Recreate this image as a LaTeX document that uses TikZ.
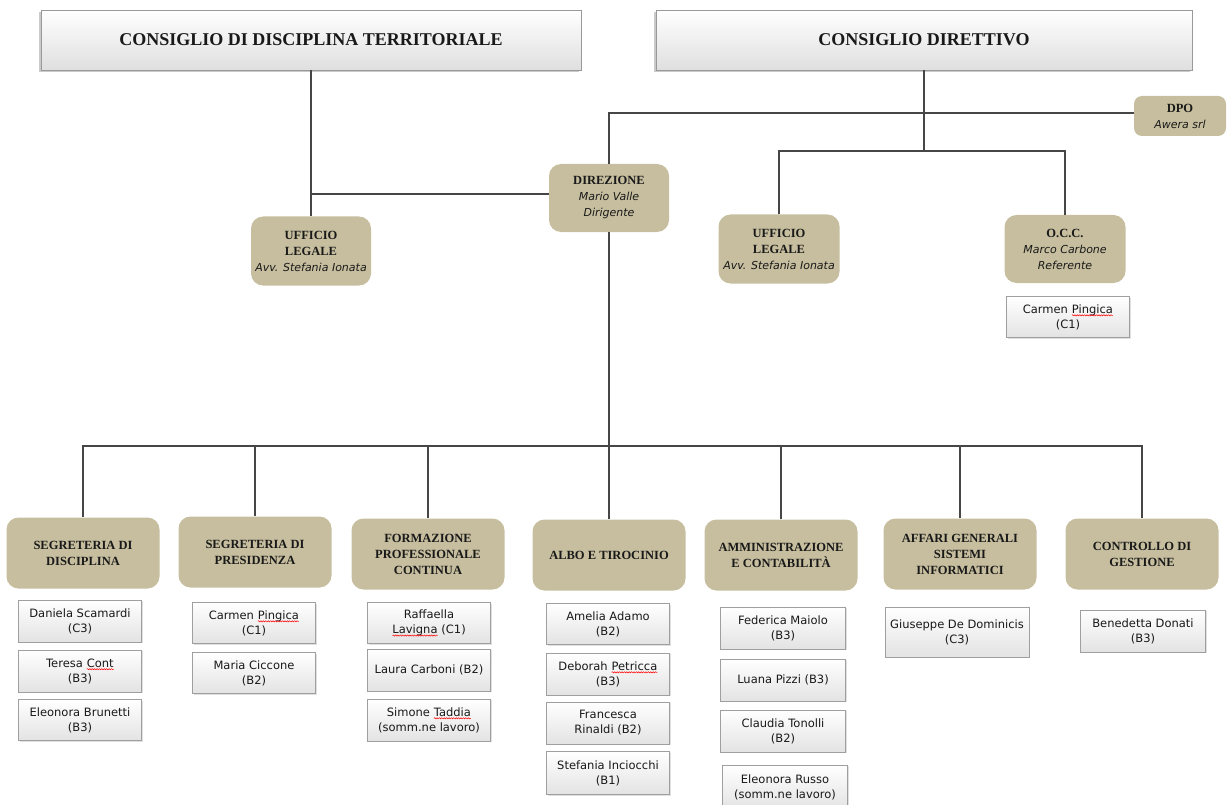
\documentclass[tikz,border=0pt]{standalone}
\usepackage{fontspec}
\setmainfont{Liberation Serif}
\newfontfamily\sansf{DejaVu Sans}
\usetikzlibrary{shadows,decorations.pathmorphing}
\definecolor{tanc}{RGB}{198,190,158}
\definecolor{linec}{RGB}{70,70,70}
\definecolor{txtc}{RGB}{25,25,25}
\newcommand\spell[1]{\tikz[baseline=(sw.base)]{\node[inner sep=0pt,outer sep=0pt,minimum width=0pt,minimum height=0pt,draw=none,shade=none,fill=none] (sw) {#1};
  \draw[red, line width=0.5pt, decorate, decoration={snake, amplitude=0.6pt, segment length=2.4pt}] ([yshift=-2.2pt]sw.base west) -- ([yshift=-2.2pt]sw.base east);}}
\newcommand\ttlA{\rmfamily\bfseries\fontsize{18}{20}\selectfont}
\newcommand\ttlB{\rmfamily\bfseries\fontsize{12.5}{16}\selectfont}
\newcommand\nmI{\sansf\mdseries\itshape\fontsize{11}{16}\selectfont}
\newcommand\pers{\sansf\fontsize{11.5}{15}\selectfont}
\tikzset{
  topbox/.style={draw=gray!80, top color=white, bottom color=gray!25, inner sep=0pt,
    minimum height=60pt, font=\ttlA, text=txtc,
    drop shadow={shadow xshift=-2pt, shadow yshift=-2pt, fill=gray!70, opacity=.6}},
  tanbox/.style={fill=tanc, rounded corners=12pt, inner sep=0pt, align=center,
    text=txtc, font=\ttlB, minimum width=153pt, minimum height=71pt},
  persbox/.style={draw=gray!75, top color=white, bottom color=gray!22, inner sep=0pt,
    align=center, text=txtc, font=\pers, minimum width=123pt, minimum height=42pt,
    drop shadow={shadow xshift=1pt, shadow yshift=-1pt, fill=gray!60, opacity=.4}},
  conn/.style={draw=linec, line width=1.3pt}
}
\begin{document}
\begin{tikzpicture}[x=1pt,y=-1pt]
\useasboundingbox (0,0) rectangle (1231,805);
% top boxes
\node[topbox, minimum width=540pt] (cdt) at (311,40) {CONSIGLIO DI DISCIPLINA TERRITORIALE};
\node[topbox, minimum width=536pt] (cd) at (924,40) {CONSIGLIO DIRETTIVO};
% second level
\node[tanbox, minimum width=92pt, minimum height=40pt, rounded corners=8pt] (dpo) at (1180,116)
  {DPO\\{\nmI Awera srl}};
\node[tanbox, minimum width=120pt, minimum height=68pt] (dir) at (609,198)
  {DIREZIONE\\{\nmI Mario Valle}\\{\nmI Dirigente}};
\node[tanbox, minimum width=120pt, minimum height=69pt] (ull) at (311,251)
  {UFFICIO\\LEGALE\\{\nmI Avv. Stefania Ionata}};
\node[tanbox, minimum width=121pt, minimum height=69pt] (ulr) at (779,249)
  {UFFICIO\\LEGALE\\{\nmI Avv. Stefania Ionata}};
\node[tanbox, minimum width=121pt, minimum height=68pt] (occ) at (1065,249)
  {O.C.C.\\{\nmI Marco Carbone}\\{\nmI Referente}};
\node[persbox, minimum height=41pt] (p0) at (1068,317) {Carmen \spell{Pingica}\\(C1)};
% third level
\node[tanbox] (sd) at (83,553) {SEGRETERIA DI\\DISCIPLINA};
\node[tanbox] (sp) at (255,552) {SEGRETERIA DI\\PRESIDENZA};
\node[tanbox] (fpc) at (428,554) {FORMAZIONE\\PROFESSIONALE\\CONTINUA};
\node[tanbox] (albo) at (609,555) {ALBO E TIROCINIO};
\node[tanbox] (amm) at (781,555) {AMMINISTRAZIONE\\E CONTABILITÀ};
\node[tanbox] (aff) at (960,554) {AFFARI GENERALI\\SISTEMI\\INFORMATICI};
\node[tanbox] (ctrl) at (1142,554) {CONTROLLO DI\\GESTIONE};
% people
\node[persbox] (p11) at (80,621) {Daniela Scamardi\\(C3)};
\node[persbox] (p12) at (80,671) {Teresa \spell{Cont}\\(B3)};
\node[persbox, minimum height=41pt] (p13) at (80,720) {Eleonora Brunetti\\(B3)};
\node[persbox, minimum height=41pt] (p21) at (254,623) {Carmen \spell{Pingica}\\(C1)};
\node[persbox, minimum height=41pt] (p22) at (254,673) {Maria Ciccone\\(B2)};
\node[persbox, minimum height=41pt] (p31) at (429,623) {Raffaella\\\spell{Lavigna} (C1)};
\node[persbox] (p32) at (429,670) {Laura Carboni (B2)};
\node[persbox] (p33) at (429,720) {Simone \spell{Taddia}\\(somm.ne lavoro)};
\node[persbox, minimum height=41pt] (p41) at (608,624) {Amelia Adamo\\(B2)};
\node[persbox] (p42) at (608,674) {Deborah \spell{Petricca}\\(B3)};
\node[persbox] (p43) at (608,723) {Francesca\\Rinaldi (B2)};
\node[persbox, minimum height=43pt] (p44) at (608,773) {Stefania Inciocchi\\(B1)};
\node[persbox, minimum width=125pt] (p51) at (783,628) {Federica Maiolo\\(B3)};
\node[persbox, minimum width=125pt] (p52) at (783,680) {Luana Pizzi (B3)};
\node[persbox, minimum width=125pt] (p53) at (783,731) {Claudia Tonolli\\(B2)};
\node[persbox, minimum width=125pt, minimum height=44pt] (p54) at (785,787) {Eleonora Russo\\(somm.ne lavoro)};
\node[persbox, minimum width=144pt, minimum height=50pt] (p61) at (957,632) {Giuseppe De Dominicis\\(C3)};
\node[persbox, minimum width=125pt] (p71) at (1143,631) {Benedetta Donati\\(B3)};
% connectors
\coordinate (jd) at (609,113);
\coordinate (b1) at (924,151);
\coordinate (b2) at (609,446);
\draw[conn] (cdt.south) -- (ull.north);
\draw[conn] ([yshift=4pt]dir.west) -- ([yshift=4pt]dir.west -| ull.north);
\draw[conn] (dir.north) -- (jd) -- (jd -| dpo.west);
\draw[conn] (cd.south) -- (b1);
\draw[conn] (ulr.north) -- (ulr.north |- b1) -- (occ.north |- b1) -- (occ.north);
\draw[conn] (dir.south) -- (b2);
\draw[conn] (sd.north) -- (sd.north |- b2) -- (ctrl.north |- b2) -- (ctrl.north);
\draw[conn] (sp.north) -- (sp.north |- b2);
\draw[conn] (fpc.north) -- (fpc.north |- b2);
\draw[conn] (albo.north) -- (albo.north |- b2);
\draw[conn] (amm.north) -- (amm.north |- b2);
\draw[conn] (aff.north) -- (aff.north |- b2);
\end{tikzpicture}
\end{document}
